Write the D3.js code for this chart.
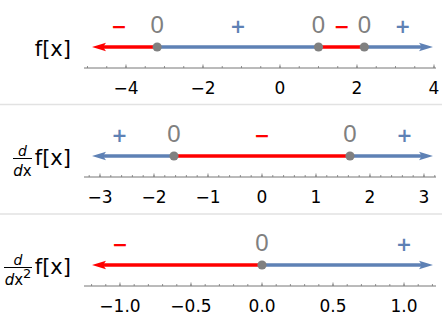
<!DOCTYPE html>
<html>
<head>
<meta charset="utf-8">
<script src="https://cdn.jsdelivr.net/npm/d3@7"></script>
<style>
  body { margin: 0; background: #fff; }
  svg { display: block; }
</style>
</head>
<body>
<div id="chart"></div>
<script>
var width = 442, height = 320;

// one number line per row: f, f', f''
var domains = [[-4.883, 3.974], [-3.148, 3.167], [-1.197, 1.204]];
var zeros = [[-3.19, 1.0, 2.19], [-1.63, 1.63], [0]];
var signs = [['−', '+', '−', '+'], ['+', '−', '+'], ['−', '+']];
var signPos = [[-4.18, -1.09, 1.6, 3.19], [-2.64, 0, 2.64], [-1.0, 1.0]];
var majorTicks = [[-4, -2, 0, 2, 4], [-3, -2, -1, 0, 1, 2, 3], [-1, -0.5, 0, 0.5, 1]];
var minorSteps = [0.5, 0.2, 0.1];
var tickFormats = ['d', 'd', '.1f'];

var lineY = [47, 156, 265],
  separators = [104.5, 214];

var red = '#ff0000', blue = '#5e81b5', gray = '#808080';

var svg = d3.select('#chart').append('svg')
  .attr('width', width).attr('height', height);

svg.selectAll('.sep').data(separators).enter().append('line')
  .attr('class', 'sep')
  .attr('x1', 0).attr('x2', width)
  .attr('y1', function(d) { return d; }).attr('y2', function(d) { return d; })
  .attr('stroke', '#e2e2e2').attr('stroke-width', 1.5);

function colorOf(s) { return s === '+' ? blue : red; }

domains.forEach(function(dom, i) {
  var y = lineY[i];
  var x = d3.scaleLinear().domain(dom).range([92, 433]);
  var g = svg.append('g');

  // axis with minor ticks
  var a0 = x.invert(84), a1 = x.invert(436);
  var step = minorSteps[i];
  var minor = d3.range(Math.ceil(a0 / step - 1e-9), Math.floor(a1 / step + 1e-9) + 1)
    .map(function(k) { return +(k * step).toFixed(6); });
  var ax = g.append('g').attr('transform', 'translate(0,' + (y + 21) + ')');
  ax.append('line').attr('x1', 84).attr('x2', 436)
    .attr('stroke', '#777').attr('stroke-width', 1);
  ax.selectAll('.minor').data(minor).enter().append('line')
    .attr('x1', x).attr('x2', x).attr('y1', 0).attr('y2', -2)
    .attr('stroke', '#777').attr('stroke-width', 0.8);
  ax.selectAll('.major').data(majorTicks[i]).enter().append('line')
    .attr('x1', x).attr('x2', x).attr('y1', 0).attr('y2', -3.5)
    .attr('stroke', '#777').attr('stroke-width', 0.8);
  var fmt = d3.format(tickFormats[i]);
  ax.selectAll('.tl').data(majorTicks[i]).enter().append('text')
    .attr('x', x).attr('y', 26)
    .attr('text-anchor', 'middle')
    .attr('font-family', 'DejaVu Sans').attr('font-size', 17)
    .attr('fill', '#000')
    .text(function(d) { return fmt(d); });

  // colored segments between zeros
  var bounds = [dom[0]].concat(zeros[i]).concat([dom[1]]);
  var segs = d3.pairs(bounds).map(function(p, k) { return {a: p[0], b: p[1], s: signs[i][k]}; });
  g.selectAll('.seg').data(segs).enter().append('line')
    .attr('x1', function(d, k) { return k === 0 ? x(d.a) + 10 : x(d.a); })
    .attr('x2', function(d, k) { return k === segs.length - 1 ? x(d.b) - 10 : x(d.b); })
    .attr('y1', y).attr('y2', y)
    .attr('stroke', function(d) { return colorOf(d.s); })
    .attr('stroke-width', 3.3);

  // arrow heads
  var first = segs[0], last = segs[segs.length - 1];
  var xl = x(dom[0]), xr = x(dom[1]);
  g.append('path')
    .attr('d', 'M' + xl + ',' + y + 'L' + (xl + 14) + ',' + (y - 4.2) + 'L' + (xl + 11) + ',' + y + 'L' + (xl + 14) + ',' + (y + 4.2) + 'Z')
    .attr('fill', colorOf(first.s));
  g.append('path')
    .attr('d', 'M' + xr + ',' + y + 'L' + (xr - 14) + ',' + (y - 4.2) + 'L' + (xr - 11) + ',' + y + 'L' + (xr - 14) + ',' + (y + 4.2) + 'Z')
    .attr('fill', colorOf(last.s));

  // zero points and labels
  g.selectAll('.pt').data(zeros[i]).enter().append('circle')
    .attr('cx', x).attr('cy', y).attr('r', 4.6)
    .attr('fill', gray);
  g.selectAll('.zl').data(zeros[i]).enter().append('text')
    .attr('x', x).attr('y', y - 14)
    .attr('text-anchor', 'middle')
    .attr('font-family', 'Liberation Sans').attr('font-size', 24)
    .attr('fill', gray)
    .text('0');

  // sign labels
  g.selectAll('.sg').data(signPos[i]).enter().append('text')
    .attr('x', x).attr('y', y - 21)
    .attr('dy', '0.35em')
    .attr('text-anchor', 'middle')
    .attr('font-family', 'DejaVu Sans').attr('font-weight', 'bold').attr('font-size', 19)
    .attr('fill', function(d, k) { return colorOf(signs[i][k]); })
    .text(function(d, k) { return signs[i][k]; });

  // row label
  g.append('text')
    .attr('x', 71).attr('y', y + 9)
    .attr('text-anchor', 'end')
    .attr('font-family', 'DejaVu Sans').attr('font-size', 21)
    .attr('fill', '#000')
    .text('f[x]');
  if (i > 0) {
    var bx0 = i === 1 ? 13 : 4, bx1 = 32, by = y + 2.5;
    g.append('line').attr('x1', bx0).attr('x2', bx1).attr('y1', by).attr('y2', by)
      .attr('stroke', '#000').attr('stroke-width', 1);
    g.append('text')
      .attr('x', (bx0 + bx1) / 2).attr('y', by - 3)
      .attr('text-anchor', 'middle')
      .attr('font-family', 'DejaVu Sans').attr('font-style', 'italic').attr('font-size', 14)
      .text('d');
    var den = g.append('text')
      .attr('x', (bx0 + bx1) / 2).attr('y', by + 17)
      .attr('text-anchor', 'middle')
      .attr('font-family', 'DejaVu Sans').attr('font-size', 15);
    den.append('tspan').attr('font-style', 'italic').text('d');
    den.append('tspan').text('x');
    if (i === 2) {
      den.append('tspan').attr('dy', -7).attr('font-size', 13).text('2');
    }
  }
});
</script>
</body>
</html>
